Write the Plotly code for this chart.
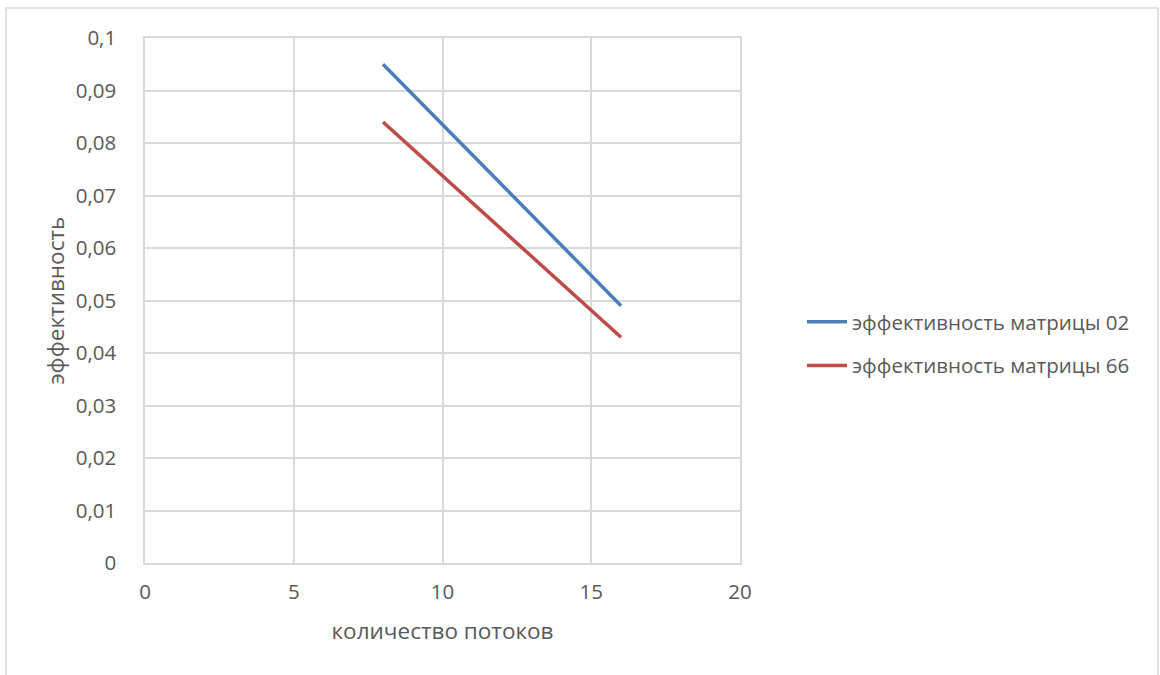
import plotly.graph_objects as go

threads = [8, 16]
eff_02 = [0.095, 0.049]
eff_66 = [0.084, 0.043]
names = ["эффективность матрицы 02", "эффективность матрицы 66"]
colors = ["#4a7ebb", "#be4b48"]
y_title = "эффективность"
x_title = "количество потоков"

W, H = 1160, 675
L, R, T, B = 145, 420, 38, 112
PW, PH = W - L - R, H - T - B

fig = go.Figure()
for i, (y, n, c) in enumerate(zip([eff_02, eff_66], names, colors)):
    fig.add_trace(go.Scatter(x=threads, y=y, mode="lines", name=n, legendgroup=f"g{i}",
                             line=dict(color=c, width=3.5)))

FONT = "Open Sans, Liberation Sans, sans-serif"
GREY = "#595959"
fig.update_layout(
    width=W, height=H,
    margin=dict(l=L, r=R, t=T, b=B),
    paper_bgcolor="white", plot_bgcolor="white",
    separators=", ",
    font=dict(family=FONT, color=GREY, size=20.5),
    showlegend=True,
    legend=dict(x=(802 - L) / PW, y=(563 - 344) / PH,
                xanchor="left", yanchor="middle", font=dict(size=20.5, color=GREY),
                traceorder="grouped", tracegroupgap=14, itemwidth=40,
                bgcolor="rgba(0,0,0,0)"),
    xaxis=dict(range=[0, 20], dtick=5, tick0=0, showgrid=True, gridcolor="#d9d9d9",
               gridwidth=1.5, zeroline=False, showline=True, linecolor="#d9d9d9",
               linewidth=1.5, mirror=True, ticks="", ticklabelstandoff=10,
               tickfont=dict(size=20.5, color=GREY),
               title=dict(text=x_title, font=dict(size=22.5, color=GREY),
                          standoff=19)),
    yaxis=dict(range=[0, 0.1], dtick=0.01, tick0=0, showgrid=True, gridcolor="#d9d9d9",
               gridwidth=1.5, zeroline=False, showline=True, linecolor="#d9d9d9",
               linewidth=1.5, mirror=True, ticks="", ticklabelstandoff=23,
               tickfont=dict(size=20.5, color=GREY)),
)
fig.add_annotation(text=y_title, xref="paper", yref="paper",
                   x=(55 - L) / PW, y=0.5, xanchor="center", yanchor="middle",
                   textangle=-90, showarrow=False,
                   font=dict(size=22.5, color=GREY, family=FONT))
# outer chart border
fig.add_shape(type="rect", xref="paper", yref="paper",
              x0=(6 - L) / PW, x1=(1158 - L) / PW,
              y0=(563 - 700) / PH, y1=(563 - 8) / PH,
              line=dict(color="#d9d9d9", width=1.5), fillcolor="rgba(0,0,0,0)", layer="below")

fig.write_html("out.html")
